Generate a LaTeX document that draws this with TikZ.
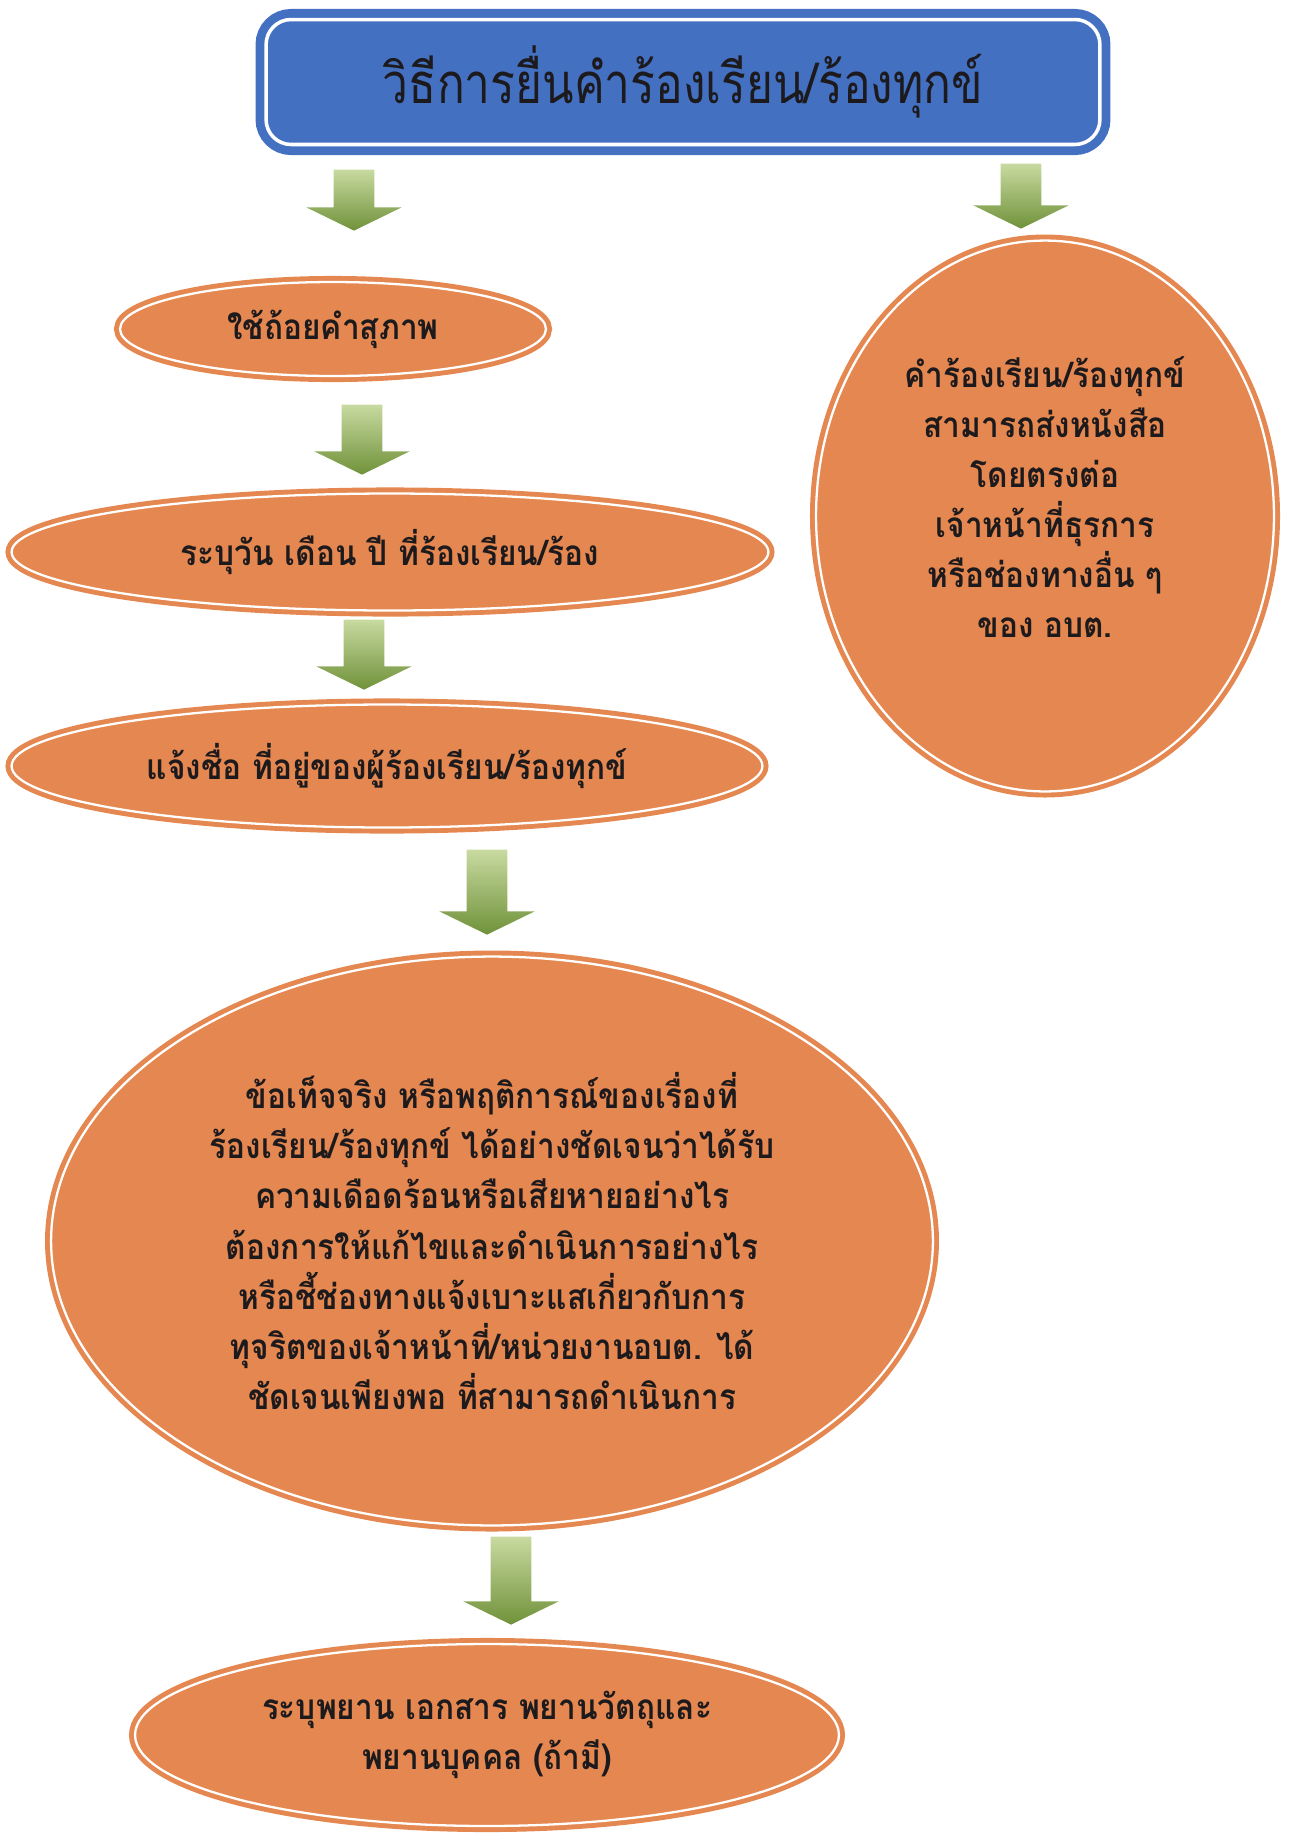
\documentclass[tikz,border=0pt]{standalone}
\usepackage{fontspec}
\newfontfamily\thaifont[Script=Thai,FakeStretch=0.9]{Loma}
\newfontfamily\thaititle[Script=Thai,FakeStretch=0.82]{Loma}
\usetikzlibrary{shapes.geometric,shapes.arrows}
\definecolor{boxblue}{RGB}{68,112,194}
\definecolor{ovalorange}{RGB}{229,135,80}
\definecolor{arrowlight}{RGB}{200,218,160}
\definecolor{arrowdark}{RGB}{112,146,58}
\definecolor{inktext}{RGB}{28,26,28}
\tikzset{
  titlebox/.style={rectangle, rounded corners=0.5cm, fill=boxblue, draw=boxblue,
    double=white, double distance=2pt, line width=5pt, text=inktext,
    font=\thaititle\fontsize{32}{40}\selectfont},
  oval/.style={ellipse, inner sep=0pt, fill=ovalorange, draw=ovalorange,
    double=white, double distance=1.3pt, line width=2.8pt, text=inktext,
    align=center, font=\thaifont\bfseries\fontsize{20}{28.5}\selectfont},
  downarrow/.style={single arrow, shape border rotate=270, inner sep=0.4cm,
    single arrow head extend=0.55cm, single arrow tip angle=128,
    top color=arrowlight, bottom color=arrowdark, anchor=tip}
}
\begin{document}
\begin{tikzpicture}[x=0.02cm,y=-0.02cm]
  \useasboundingbox (0,0) rectangle (1289,1840);
  %
  \node[titlebox, minimum width=16.68cm, minimum height=2.5cm] (title) at (683,82)
    {วิธีการยื่นคำร้องเรียน/ร้องทุกข์};
  %
  \node[oval, minimum width=8.52cm, minimum height=1.88cm] (polite) at (333,329)
    {ใช้ถ้อยคำสุภาพ};
  \node[oval, minimum width=15.14cm, minimum height=2.34cm] (date) at (390,552)
    {ระบุวัน เดือน ปี ที่ร้องเรียน/ร้อง};
  \node[oval, minimum width=15.02cm, minimum height=2.46cm] (name) at (387,766)
    {แจ้งชื่อ ที่อยู่ของผู้ร้องเรียน/ร้องทุกข์};
  \node[oval, minimum width=17.64cm, minimum height=11.38cm] (facts) at (492,1241)
    {ข้อเท็จจริง หรือพฤติการณ์ของเรื่องที่\\
     ร้องเรียน/ร้องทุกข์ ได้อย่างชัดเจนว่าได้รับ\\
     ความเดือดร้อนหรือเสียหายอย่างไร\\
     ต้องการให้แก้ไขและดำเนินการอย่างไร\\
     หรือชี้ช่องทางแจ้งเบาะแสเกี่ยวกับการ\\
     ทุจริตของเจ้าหน้าที่/หน่วยงานอบต. ได้\\
     ชัดเจนเพียงพอ ที่สามารถดำเนินการ};
  \node[oval, minimum width=14.08cm, minimum height=3.64cm] (witness) at (487,1735)
    {ระบุพยาน เอกสาร พยานวัตถุและ\\ พยานบุคคล (ถ้ามี)};
  \node[oval, text depth=0.75cm, minimum width=9.16cm, minimum height=11.02cm] (letter) at (1045,516)
    {คำร้องเรียน/ร้องทุกข์\\ สามารถส่งหนังสือ\\ โดยตรงต่อ\\
     เจ้าหน้าที่ธุรการ\\ หรือช่องทางอื่น ๆ\\ ของ อบต.};
  %
  \node[downarrow, minimum height=1.22cm] (a1) at (354,231) {};
  \node[downarrow, minimum height=1.4cm] (a2) at (362,475) {};
  \node[downarrow, minimum height=1.4cm] (a3) at (364,690) {};
  \node[downarrow, minimum height=1.7cm] (a4) at (487,935) {};
  \node[downarrow, minimum height=1.76cm] (a5) at (511,1625) {};
  \node[downarrow, minimum height=1.3cm] (a6) at (1021,229) {};
\end{tikzpicture}
\end{document}
